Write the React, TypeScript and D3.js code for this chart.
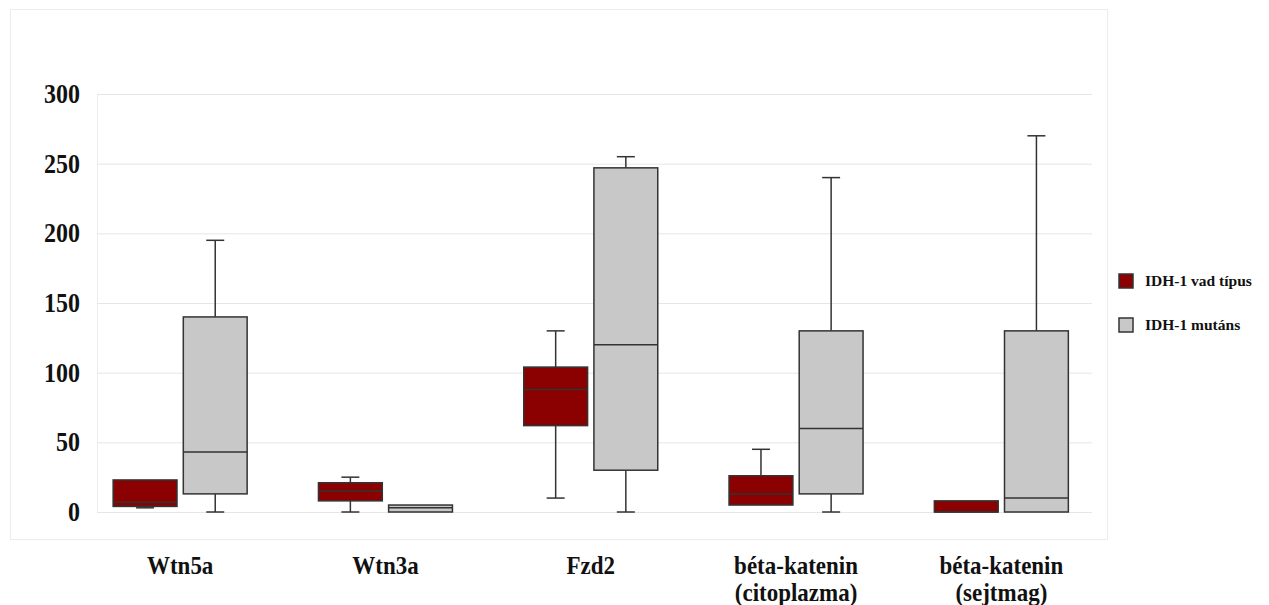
import React from "react";
import * as d3 from "d3";

const categories = [
  ["Wtn5a"],
  ["Wtn3a"],
  ["Fzd2"],
  ["béta-katenin", "(citoplazma)"],
  ["béta-katenin", "(sejtmag)"],
];
const seriesNames = ["IDH-1 vad típus", "IDH-1 mutáns"];
const seriesColors = ["#8b0000", "#c8c8c8"];
// [min, q1, median, q3, max]
const wildType = [
  [3, 4, 7, 23, 23],
  [0, 8, 15, 21, 25],
  [10, 62, 88, 104, 130],
  [5, 5, 13, 26, 45],
  [0, 0, 0, 8, 8],
];
const mutant = [
  [0, 13, 43, 140, 195],
  [0, 0, 3, 5, 5],
  [0, 30, 120, 247, 255],
  [0, 13, 60, 130, 240],
  [0, 0, 10, 130, 270],
];
const yTicks = [0, 50, 100, 150, 200, 250, 300];

const W = 1269;
const H = 605;
const FONT = "'Liberation Serif', 'Times New Roman', serif";

export default function App() {
  const y = d3.scaleLinear().domain([0, 300]).range([512, 94]);
  const x = d3
    .scaleBand<number>()
    .domain(d3.range(categories.length))
    .range([77.5, 1104]);
  const sub = d3
    .scaleBand<number>()
    .domain([0, 1])
    .range([x.bandwidth() / 2 - 67, x.bandwidth() / 2 + 67])
    .paddingInner(0.09);
  const capW = 18;
  const series = [wildType, mutant];

  return (
    <svg
      width={W}
      height={H}
      style={{ position: "absolute", left: 0, top: 0, background: "#fff" }}
    >
      <rect x={10.5} y={9.5} width={1097} height={530} fill="#fff" stroke="#ececec" />
      <line x1={97.5} x2={97.5} y1={94} y2={512} stroke="#eeeeee" />
      {yTicks.map((t) => (
        <g key={t}>
          <line x1={97} x2={1092} y1={y(t) + 0.5} y2={y(t) + 0.5} stroke="#e6e6e6" />
          <text
            transform={`translate(80,${y(t) + 9}) scale(1,1.1)`}
            textAnchor="end"
            fontFamily={FONT}
            fontWeight="bold"
            fontSize={24}
            fill="#111"
          >
            {t}
          </text>
        </g>
      ))}
      {categories.map((cat, i) => (
        <g key={i} transform={`translate(${x(i)},0)`}>
          {series.map((s, k) => {
            const [mn, q1, md, q3, mx] = s[i];
            const bx = sub(k)!;
            const bw = sub.bandwidth();
            const cx = bx + bw / 2;
            return (
              <g key={k} stroke="#333" strokeWidth={1.5}>
                {mx > q3 && (
                  <>
                    <line x1={cx} x2={cx} y1={y(mx)} y2={y(q3)} />
                    <line x1={cx - capW / 2} x2={cx + capW / 2} y1={y(mx)} y2={y(mx)} />
                  </>
                )}
                {mn < q1 && (
                  <>
                    <line x1={cx} x2={cx} y1={y(q1)} y2={y(mn)} />
                    <line x1={cx - capW / 2} x2={cx + capW / 2} y1={y(mn)} y2={y(mn)} />
                  </>
                )}
                <rect
                  x={bx}
                  y={y(q3)}
                  width={bw}
                  height={Math.max(1, y(q1) - y(q3))}
                  fill={seriesColors[k]}
                />
                <line x1={bx} x2={bx + bw} y1={y(md)} y2={y(md)} />
              </g>
            );
          })}
          {cat.map((line, j) => (
            <text
              key={j}
              transform={`translate(${x.bandwidth() / 2},${574 + j * 27}) scale(1,1.12)`}
              textAnchor="middle"
              fontFamily={FONT}
              fontWeight="bold"
              fontSize={23}
              fill="#111"
            >
              {line}
            </text>
          ))}
        </g>
      ))}
      {seriesNames.map((name, k) => (
        <g key={name} transform={`translate(1119,${274 + k * 44})`}>
          <rect x={0} y={0} width={14} height={14} fill={seriesColors[k]} stroke="#333" strokeWidth={1.5} />
          <text x={26} y={12} fontFamily={FONT} fontWeight="bold" fontSize={15.5} fill="#111">
            {name}
          </text>
        </g>
      ))}
    </svg>
  );
}
